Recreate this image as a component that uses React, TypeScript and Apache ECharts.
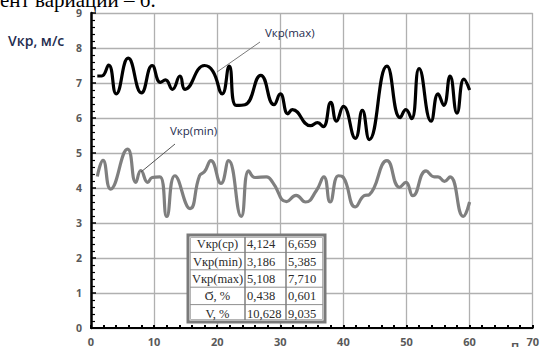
import React, { useEffect, useRef } from "react";
import * as echarts from "echarts";

// Vкр(max) series: positions along n and values (m/s)
const maxN = [1, 1.7, 2.8, 4, 5.9, 8, 9.7, 11, 11.8, 12.9, 14.1, 14.9, 18, 19.3, 20.8, 21.9, 23, 24.4, 26.9, 29, 30, 31.2, 31.9, 34.8, 35.9, 36.8, 38, 38.9, 40, 41.9, 43, 44.1, 46.9, 49, 49.9, 50.8, 52, 53.9, 55, 55.9, 56.9, 58, 59.1, 60];
const maxV = [7.2, 7.2, 7.51, 6.69, 7.71, 6.72, 7.5, 7.02, 7.09, 6.82, 7.2, 6.82, 7.5, 7.34, 6.69, 7.48, 6.36, 6.38, 7.22, 6.38, 6.69, 6.12, 6.24, 5.78, 5.87, 5.75, 6.45, 5.91, 6.33, 5.42, 6.22, 5.385, 7.48, 6.01, 6.24, 5.98, 7.41, 5.91, 6.69, 6.36, 7.2, 6.14, 7.11, 6.8];

// Vкр(min) series
const minN = [1, 1.9, 3.1, 5.8, 7.1, 7.9, 9, 9.7, 10.9, 12, 13.3, 15.7, 17.2, 18, 19, 20.6, 21.8, 23.8, 25, 26, 27.8, 28.8, 31, 32.5, 34, 35.7, 36.9, 37.9, 39.2, 40, 41.9, 43.3, 44.1, 46.9, 48.9, 49.9, 51, 53.1, 54.4, 55, 56, 56.9, 59, 60];
const minV = [4.33, 4.79, 3.97, 5.108, 4.16, 4.5, 4.16, 4.3, 4.32, 3.186, 4.35, 3.41, 4.35, 4.47, 4.78, 4.13, 4.78, 3.19, 4.49, 4.3, 4.32, 4.16, 3.61, 3.79, 3.6, 3.92, 4.32, 3.6, 4.35, 4.3, 3.46, 3.78, 3.81, 4.78, 4.02, 4.16, 3.78, 4.49, 4.32, 4.32, 4.19, 4.32, 3.19, 3.6];

// statistics table
const rowLabels = ["Vкр(ср)", "Vкр(min)", "Vкр(max)", "Ϭ, %", "V, %"];
const colMinSeries = ["4,124", "3,186", "5,108", "0,438", "10,628"];
const colMaxSeries = ["6,659", "5,385", "7,710", "0,601", "9,035"];

const yMin = 0;
const yMax = 9;
const yStep = 1;
const xMin = 0;
const xMax = 70;
const xStep = 10;

export default function App() {
  const ref = useRef<HTMLDivElement>(null);
  useEffect(() => {
    if (!ref.current) return;
    const chart = echarts.init(ref.current, null, { renderer: "svg" });

    const tX = 188, tY = 235, colX = [188, 245, 286, 325], rowH = 17.4;
    const tW = colX[3] - colX[0], tH = rowH * rowLabels.length;
    const tableEls: any[] = [];
    tableEls.push({ type: "rect", shape: { x: tX, y: tY, width: tW, height: tH }, style: { fill: "#fff", stroke: "#7a7a7a", lineWidth: 3 }, z: 100 });
    tableEls.push({ type: "rect", shape: { x: tX + 2.5, y: tY + 2.5, width: tW - 5, height: tH - 5 }, style: { fill: "none", stroke: "#b5b5b5", lineWidth: 1 }, z: 101 });
    for (let i = 1; i < rowLabels.length; i++) {
      tableEls.push({ type: "line", shape: { x1: tX + 2, y1: tY + i * rowH, x2: tX + tW - 2, y2: tY + i * rowH }, style: { stroke: "#8f8f8f", lineWidth: 1 }, z: 101 });
    }
    for (let j = 1; j < 3; j++) {
      tableEls.push({ type: "line", shape: { x1: colX[j], y1: tY + 2, x2: colX[j], y2: tY + tH - 2 }, style: { stroke: "#7f7f7f", lineWidth: 1.5 }, z: 101 });
    }
    const tf = "'Liberation Serif', serif";
    rowLabels.forEach((lab, i) => {
      const cy = tY + i * rowH + rowH / 2 + 0.5;
      tableEls.push({ type: "text", x: (colX[0] + colX[1]) / 2 + 1, y: cy, style: { text: lab, font: `12.5px ${tf}`, fill: "#2b2b2b", align: "center", verticalAlign: "middle" }, z: 102 });
      tableEls.push({ type: "text", x: colX[1] + 2, y: cy, style: { text: colMinSeries[i], font: `12.5px ${tf}`, fill: "#2b2b2b", align: "left", verticalAlign: "middle" }, z: 102 });
      tableEls.push({ type: "text", x: colX[2] + 2, y: cy, style: { text: colMaxSeries[i], font: `12.5px ${tf}`, fill: "#2b2b2b", align: "left", verticalAlign: "middle" }, z: 102 });
    });

    const sans = "'Open Sans', sans-serif";

    chart.setOption({
      animation: false,
      grid: { left: 91, top: 13, right: 0, bottom: 14, containLabel: false },
      xAxis: {
        type: "value",
        min: xMin,
        max: xMax,
        interval: xStep,
        axisLine: { show: true, onZero: false, lineStyle: { color: "#000", width: 2 } },
        axisTick: { show: true, inside: true, length: 3, lineStyle: { color: "#000", width: 2 } },
        minorTick: { show: true, splitNumber: 5, length: 3, lineStyle: { color: "#000", width: 2 } },
        splitLine: { show: true, lineStyle: { color: "#b0b0b0", width: 1.3 } },
        axisLabel: { show: true, margin: 8, color: "#595959", fontWeight: "bold", fontSize: 11, fontFamily: sans, showMaxLabel: true },
      },
      yAxis: {
        type: "value",
        min: yMin,
        max: yMax,
        interval: yStep,
        axisLine: { show: true, lineStyle: { color: "#000", width: 2.5 } },
        axisTick: { show: true, inside: true, length: 5, lineStyle: { color: "#000", width: 1.5 } },
        minorTick: { show: true, splitNumber: 5, length: 4, lineStyle: { color: "#000", width: 1.2 } },
        splitLine: { show: true, lineStyle: { color: "#b0b0b0", width: 1.3 } },
        axisLabel: { show: true, margin: 9, color: "#595959", fontWeight: "bold", fontSize: 10.5, fontFamily: sans },
      },
      series: [
        {
          name: "Vкр(max)",
          type: "line",
          data: maxN.map((n, i) => [n, maxV[i]]),
          smooth: 0.5,
          showSymbol: false,
          lineStyle: { color: "#000", width: 3.2 },
          z: 3,
        },
        {
          name: "Vкр(min)",
          type: "line",
          data: minN.map((n, i) => [n, minV[i]]),
          smooth: 0.5,
          showSymbol: false,
          lineStyle: { color: "#7f7f7f", width: 3.2 },
          z: 2,
        },
      ],
      graphic: [
        { type: "text", x: 0, y: 10, style: { text: "ент вариации – б.", font: "21px 'Liberation Serif', serif", fill: "#000", align: "left", verticalAlign: "bottom" }, z: 50 },
        { type: "text", x: 8, y: 40, style: { text: "Vкр, м/с", font: `600 14px ${sans}`, fill: "#1f2d4f", align: "left", verticalAlign: "middle" }, z: 50 },
        { type: "line", shape: { x1: 217, y1: 72, x2: 260, y2: 42 }, style: { stroke: "#7a7a7a", lineWidth: 1 }, z: 50 },
        { type: "text", x: 265, y: 32, style: { text: "Vкр(max)", font: `11.5px ${sans}`, fill: "#1f2d4f", align: "left", verticalAlign: "middle" }, z: 50 },
        { type: "line", shape: { x1: 141, y1: 172, x2: 175, y2: 144 }, style: { stroke: "#555", lineWidth: 1 }, z: 50 },
        { type: "text", x: 170, y: 130, style: { text: "Vкр(min)", font: `11.5px ${sans}`, fill: "#1f2d4f", align: "left", verticalAlign: "middle" }, z: 50 },
        { type: "text", x: 515, y: 341, style: { text: "П", font: `bold 11px ${sans}`, fill: "#595959", align: "center", verticalAlign: "top" }, z: 50 },
        ...tableEls,
      ],
    });
    return () => chart.dispose();
  }, []);
  return (
    <div
      ref={ref}
      style={{ position: "fixed", left: 0, top: 0, width: 542, height: 347, background: "#fff" }}
    />
  );
}
